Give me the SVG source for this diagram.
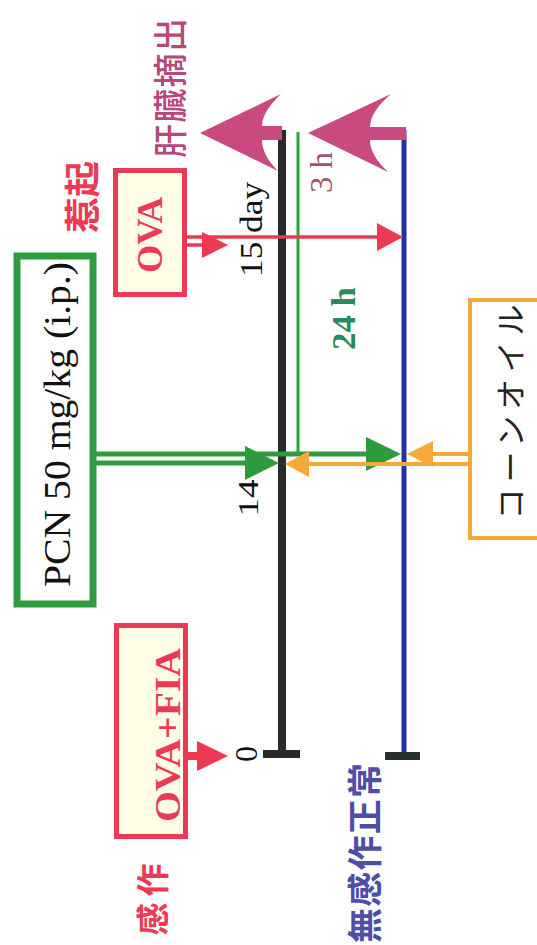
<svg xmlns="http://www.w3.org/2000/svg" width="537" height="945" viewBox="0 0 537 945">
  <style>
    .serif { font-family: "Liberation Serif", "Times New Roman", serif; }
    .jp { font-family: "Noto Sans CJK JP", "Noto Sans", sans-serif; }
    .red-box { fill: #FFFDE6; stroke: #EC3A55; stroke-width: 5; }
    .red { fill: #EC3A55; }
    .red-line { stroke: #EC3A55; fill: none; }
    .green-line { stroke: #2E9B3F; fill: none; }
    .green { fill: #2E9B3F; }
    .orange-line { stroke: #F6A93A; fill: none; }
    .orange { fill: #F6A93A; }
    .magenta { fill: #C94A80; }
  </style>

  <rect width="537" height="945" fill="#FFFFFF"/>

  <!-- timelines and connectors -->
  <g id="connectors">
    <!-- sensitized group timeline (black) -->
    <line x1="282" y1="130" x2="282" y2="754" stroke="#2A2A2C" stroke-width="8"/>
    <rect x="263" y="750" width="37" height="8" fill="#2A2A2C"/>
    <!-- PCN 24 h / 3 h marker (thin green) -->
    <line x1="298" y1="132" x2="298" y2="456" stroke="#28A83A" stroke-width="3"/>
    <!-- non-sensitized control timeline (blue) -->
    <line x1="404" y1="130" x2="404" y2="756" stroke="#2233A0" stroke-width="5"/>
    <rect x="385" y="752" width="35" height="8" fill="#2A2F30"/>

    <!-- PCN dosing arrows -->
    <line class="green-line" x1="96" y1="454" x2="372" y2="454" stroke-width="5"/>
    <line class="green-line" x1="96" y1="463" x2="250" y2="463" stroke-width="5"/>
    <polygon class="green" points="245,446 279,463 245,480"/>
    <polygon class="green" points="366,437 401,454 366,471"/>

    <!-- corn oil vehicle arrows -->
    <line class="orange-line" x1="468" y1="454" x2="428" y2="454" stroke-width="4"/>
    <line class="orange-line" x1="468" y1="464" x2="300" y2="464" stroke-width="4"/>
    <polygon class="orange" points="407,454 433,441 433,467"/>
    <polygon class="orange" points="285,464 309,451 309,477"/>

    <!-- challenge arrows (OVA) -->
    <line class="red-line" x1="187" y1="237" x2="380" y2="237" stroke-width="3.5"/>
    <line class="red-line" x1="187" y1="245" x2="205" y2="245" stroke-width="3.5"/>
    <polygon class="red" points="202,232 228,245 202,258"/>
    <polygon class="red" points="377,223 403,237 377,251"/>

    <!-- sensitization arrow (OVA+FIA) -->
    <line class="red-line" x1="188" y1="756" x2="200" y2="756" stroke-width="8"/>
    <polygon class="red" points="197,741 228,756 197,771"/>

    <!-- liver excision arrows -->
    <path class="magenta" d="M200,133 L281,94 Q262,112 262,126 L282,126 L282,140 L262,140 Q262,155 278,171 Z"/>
    <path class="magenta" d="M308,133 L391,94 Q370,112 370,127 L406,127 L406,140 L370,140 Q370,155 388,172 Z"/>
  </g>

  <!-- boxes -->
  <g id="node-ova-challenge">
    <rect class="red-box" x="115.5" y="170.5" width="69" height="124"/>
    <text class="serif red" font-weight="bold" font-size="36" text-anchor="middle" textLength="76" lengthAdjust="spacingAndGlyphs" transform="translate(162,235) rotate(-90)">OVA</text>
  </g>

  <g id="node-pcn">
    <rect x="17" y="256" width="76" height="348" fill="#FFFFFF" stroke="#2E9B3F" stroke-width="7"/>
    <text class="serif" fill="#111111" font-size="38" text-anchor="middle" textLength="325" lengthAdjust="spacingAndGlyphs" transform="translate(70,424.5) rotate(-90)">PCN 50 mg/kg (i.p.)</text>
  </g>

  <g id="node-corn-oil">
    <rect x="470" y="300" width="80" height="238" fill="#FFFFFF" stroke="#F6A93A" stroke-width="4"/>
    <text class="jp" fill="#222222" font-size="31" text-anchor="middle" dominant-baseline="central" textLength="215" lengthAdjust="spacing" transform="translate(508,412) rotate(-90)">コーンオイル</text>
  </g>

  <g id="node-ova-fia">
    <rect class="red-box" x="116.5" y="625.5" width="69" height="211"/>
    <text class="serif red" font-weight="bold" font-size="36" text-anchor="middle" textLength="174" lengthAdjust="spacingAndGlyphs" transform="translate(180,735) rotate(-90)">OVA+FIA</text>
  </g>

  <!-- labels -->
  <g id="labels">
    <text class="jp" fill="#B9477A" font-weight="500" font-size="34" text-anchor="middle" dominant-baseline="central" textLength="140" lengthAdjust="spacing" transform="translate(168,88) rotate(-90)">肝臓摘出</text>
    <text class="jp red" font-weight="bold" font-size="36" text-anchor="middle" dominant-baseline="central" transform="translate(80,197) rotate(-90)">惹起</text>
    <text class="serif" fill="#111111" font-size="32" text-anchor="middle" textLength="95" lengthAdjust="spacingAndGlyphs" transform="translate(262,229.5) rotate(-90)">15 day</text>
    <text class="serif" fill="#A0566A" font-size="31" text-anchor="middle" textLength="41" lengthAdjust="spacingAndGlyphs" transform="translate(332,172.5) rotate(-90)">3 h</text>
    <text class="serif" fill="#2A8A5E" font-weight="bold" font-size="34" text-anchor="middle" textLength="63" lengthAdjust="spacingAndGlyphs" transform="translate(355,318.5) rotate(-90)">24 h</text>
    <text class="serif" fill="#111111" font-size="30" text-anchor="middle" textLength="37" lengthAdjust="spacingAndGlyphs" transform="translate(258,498) rotate(-90)">14</text>
    <text class="serif" fill="#111111" font-size="32" text-anchor="middle" transform="translate(257,754) rotate(-90)">0</text>
    <text class="jp red" font-weight="bold" font-size="33" letter-spacing="6" text-anchor="middle" dominant-baseline="central" transform="translate(151,896.5) rotate(-90)">感作</text>
    <text class="jp" fill="#4E4EA6" font-weight="bold" font-size="35" text-anchor="middle" dominant-baseline="central" textLength="180" lengthAdjust="spacing" transform="translate(362,853) rotate(-90)">無感作正常</text>
  </g>
</svg>
